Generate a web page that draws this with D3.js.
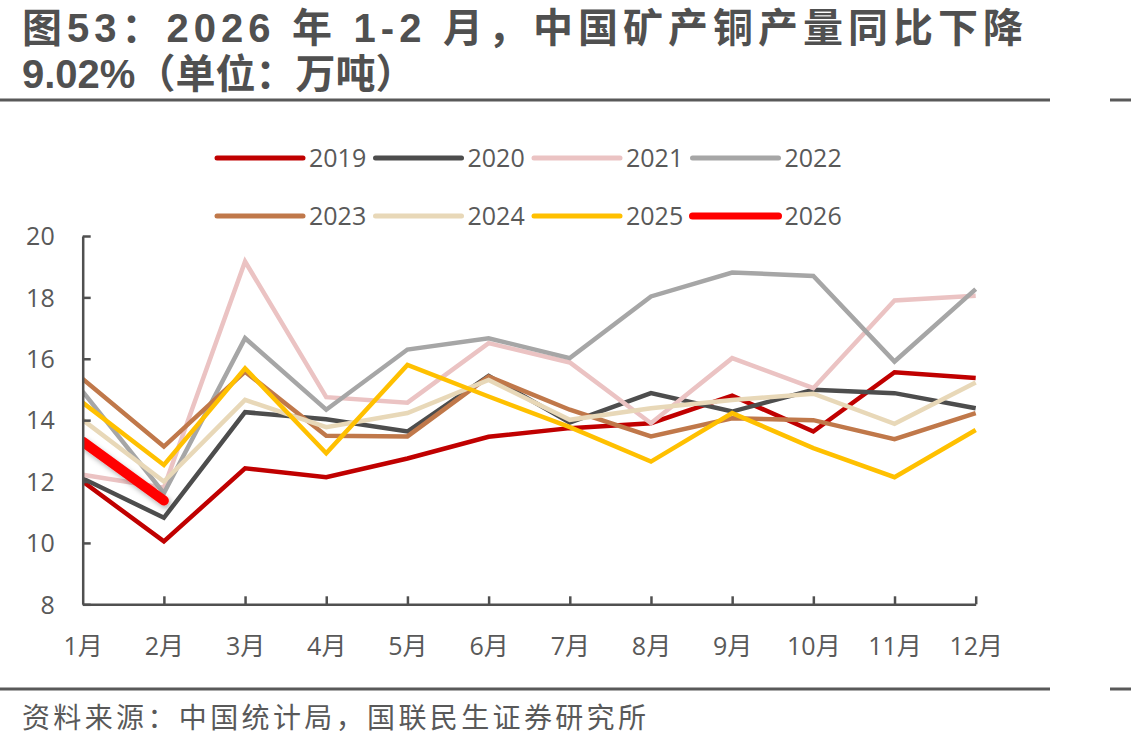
<!DOCTYPE html>
<html>
<head>
<meta charset="utf-8">
<script src="https://cdn.jsdelivr.net/npm/d3@7"></script>
<style>
	body { margin: 0; background: #fff; }
	svg { display: block; }
</style>
</head>
<body>
<svg width="1131" height="750"></svg>
<script>
// data
let months = ['1月', '2月', '3月', '4月', '5月', '6月', '7月', '8月', '9月', '10月', '11月', '12月'];
let years = ['2019', '2020', '2021', '2022', '2023', '2024', '2025', '2026'];
let v2019 = [12.0, 10.05, 12.43, 12.14, 12.75, 13.46, 13.74, 13.9, 14.8, 13.63, 15.56, 15.37];
let v2020 = [12.1, 10.82, 14.26, 14.03, 13.63, 15.44, 13.92, 14.88, 14.28, 14.99, 14.88, 14.39];
let v2021 = [12.22, 11.8, 19.17, 14.75, 14.57, 16.51, 15.88, 13.9, 16.02, 15.04, 17.9, 18.05];
let v2022 = [14.93, 11.62, 16.67, 14.34, 16.3, 16.67, 16.02, 18.03, 18.81, 18.7, 15.91, 18.27];
let v2023 = [15.34, 13.14, 15.58, 13.49, 13.47, 15.42, 14.34, 13.47, 14.06, 14.0, 13.38, 14.23];
let v2024 = [14.01, 12.0, 14.66, 13.77, 14.23, 15.31, 14.01, 14.39, 14.66, 14.86, 13.88, 15.23];
let v2025 = [14.57, 12.54, 15.69, 12.92, 15.8, 14.77, 13.77, 12.65, 14.23, 13.09, 12.14, 13.68];
let v2026 = [13.3, 11.38];
let yTicks = [8, 10, 12, 14, 16, 18, 20];

let values = [v2019, v2020, v2021, v2022, v2023, v2024, v2025, v2026];
let colors = ['#C00000', '#4D4D4D', '#EBC3C3', '#A6A6A6', '#C0784A', '#E8D8B8', '#FFC000', '#FF0000'];

let series = years.map((y, i) => {
	return { year: y, color: colors[i], values: values[i], thick: y === '2026' };
});

let textColor = '#595959';
let fontFamily = '"Open Sans", "Noto Sans CJK SC", sans-serif';

let svg = d3.select('svg');

let defs = svg.append('defs');
let shadow = defs.append('filter')
	.attr('id', 'shadow')
	.attr('x', '-20%').attr('y', '-20%')
	.attr('width', '140%').attr('height', '160%');
shadow.append('feDropShadow')
	.attr('dx', 2).attr('dy', 3)
	.attr('stdDeviation', 2.5)
	.attr('flood-color', '#000')
	.attr('flood-opacity', 0.3);

let plotLeft = 82.7, plotRight = 975.7, plotTop = 236, plotBottom = 604.3;

defs.append('clipPath')
	.attr('id', 'plot')
	.append('rect')
	.attr('x', plotLeft).attr('y', 200)
	.attr('width', plotRight - plotLeft + 20).attr('height', 420);

// title, one paragraph wrapped on two lines; first line is justified
let title = svg.append('text')
	.attr('fill', '#505050')
	.style('font-family', '"Liberation Sans", "Noto Sans CJK SC", sans-serif')
	.style('font-weight', 'bold')
	.style('font-size', '40px');
let line1 = title.append('tspan')
	.attr('x', 22).attr('y', 42)
	.style('letter-spacing', '5px')
	.text('图53：2026 年 1-2 月，中国矿产铜产量同比下降');
title.append('tspan')
	.attr('x', 22).attr('y', 88)
	.text('9.02%（单位：万吨）');
let natural = line1.node().getComputedTextLength();
let spaces = line1.text().split(' ').length - 1;
line1.style('word-spacing', Math.max(0, (1006 - natural) / spaces) + 'px');

// rules above and below the chart
[100, 689].forEach(ry => {
	svg.append('line')
		.attr('x1', 0).attr('x2', 1050)
		.attr('y1', ry).attr('y2', ry)
		.attr('stroke', '#595959').attr('stroke-width', 3);
	svg.append('line')
		.attr('x1', 1110).attr('x2', 1131)
		.attr('y1', ry).attr('y2', ry)
		.attr('stroke', '#595959').attr('stroke-width', 3);
});

let x = d3.scalePoint()
	.domain(months)
	.range([plotLeft, plotRight]);

let y = d3.scaleLinear()
	.domain([8, 20])
	.range([plotBottom, plotTop]);

// lines
let line = d3.line()
	.x((d, i) => x(months[i]))
	.y(d => y(d));

svg.append('g')
	.attr('clip-path', 'url(#plot)')
	.selectAll('path')
	.data(series)
	.join('path')
	.attr('d', d => line(d.values))
	.attr('fill', 'none')
	.attr('stroke', d => d.color)
	.attr('stroke-width', d => d.thick ? 10 : 4.5)
	.attr('stroke-linecap', d => d.thick ? 'round' : 'butt')
	.attr('filter', d => d.thick ? 'url(#shadow)' : null);

// axes
let yAxis = svg.append('g')
	.attr('transform', `translate(${plotLeft},0)`)
	.call(d3.axisLeft(y).tickValues(yTicks).tickSizeInner(-8).tickSizeOuter(0).tickPadding(28));
let xAxis = svg.append('g')
	.attr('transform', `translate(0,${plotBottom})`)
	.call(d3.axisBottom(x).tickSizeInner(-8).tickSizeOuter(0).tickPadding(42));

xAxis.selectAll('.tick').filter(d => d === '1月').select('line').remove();

[yAxis, xAxis].forEach(a => {
	a.select('.domain').attr('stroke', '#505050').attr('stroke-width', 2.5);
	a.selectAll('.tick line').attr('stroke', '#505050').attr('stroke-width', 2.5);
	a.selectAll('.tick text')
		.attr('fill', textColor)
		.style('font-family', fontFamily)
		.style('font-size', '25px');
});
yAxis.selectAll('.tick text').attr('dy', '0.35em');
xAxis.selectAll('.tick text').attr('dy', '0.35em');

// legend
let legend = svg.append('g')
	.selectAll('g')
	.data(series)
	.join('g')
	.attr('transform', (d, i) => `translate(${217 + (i % 4) * 158.5},${i < 4 ? 158 : 216})`);

legend.append('line')
	.attr('x1', 0).attr('x2', 86)
	.attr('stroke', d => d.color)
	.attr('stroke-width', d => d.thick ? 7 : 5)
	.attr('stroke-linecap', 'round');

legend.append('text')
	.attr('x', 92)
	.attr('dy', '0.35em')
	.attr('fill', textColor)
	.style('font-family', fontFamily)
	.style('font-size', '25px')
	.text(d => d.year);

// source
svg.append('text')
	.attr('x', 22).attr('y', 728)
	.attr('textLength', 624)
	.attr('lengthAdjust', 'spacing')
	.attr('fill', textColor)
	.style('font-family', '"Noto Sans CJK SC", sans-serif')
	.style('font-size', '28px')
	.text('资料来源：中国统计局，国联民生证券研究所');
</script>
</body>
</html>
